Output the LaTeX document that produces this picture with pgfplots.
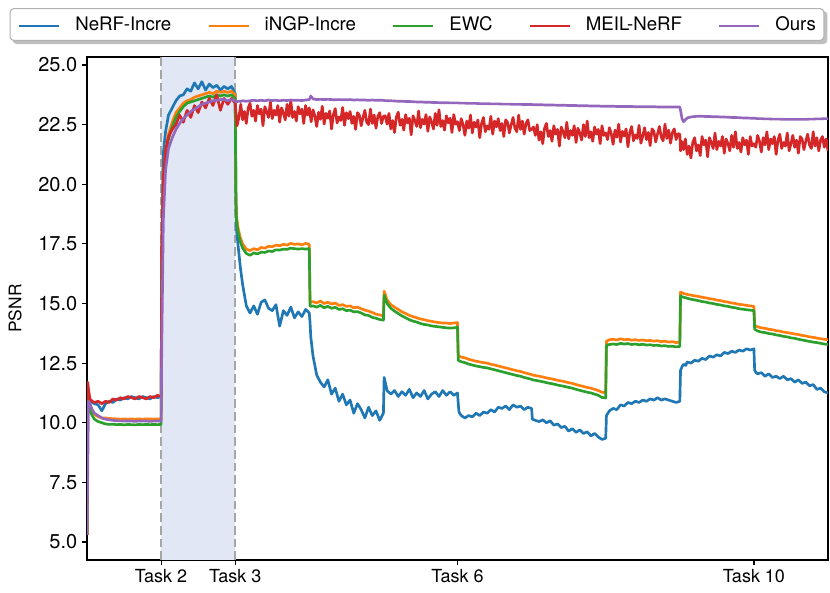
\documentclass[border=0pt]{standalone}
\usepackage{fontspec}
\setmainfont{TeX Gyre Heros}
\usepackage{pgfplots}
\usepackage{pgfplotstable}
\pgfplotsset{compat=1.18}
\usetikzlibrary{backgrounds}

\definecolor{tabblue}{HTML}{1F77B4}
\definecolor{taborange}{HTML}{FF7F0E}
\definecolor{tabgreen}{HTML}{2CA02C}
\definecolor{tabred}{HTML}{D62728}
\definecolor{tabpurple}{HTML}{9467BD}
\definecolor{spanfill}{RGB}{225,231,244}

% x in task units; N=NeRF-Incre, I=iNGP-Incre, E=EWC, O=Ours
\pgfplotstableread{
x N I E O
1.00 5.30 5.30 5.30 5.30
1.01 11.20 11.00 10.90 8.00
1.02 11.00 10.90 10.80 10.90
1.04 10.90 10.70 10.50 10.80
1.07 10.85 10.45 10.30 10.55
1.10 10.80 10.35 10.15 10.40
1.15 10.75 10.25 10.05 10.30
1.20 10.50 10.20 10.00 10.20
1.25 10.80 10.20 9.95 10.15
1.30 10.90 10.18 9.93 10.12
1.35 10.85 10.17 9.94 10.10
1.40 11.00 10.16 9.92 10.08
1.45 10.95 10.15 9.93 10.08
1.50 11.05 10.16 9.91 10.07
1.55 11.00 10.15 9.93 10.07
1.60 11.10 10.16 9.92 10.07
1.65 11.05 10.15 9.91 10.06
1.70 11.00 10.16 9.93 10.07
1.75 11.10 10.15 9.92 10.07
1.80 11.05 10.16 9.93 10.07
1.85 11.00 10.16 9.92 10.06
1.90 11.10 10.15 9.93 10.07
1.95 11.05 10.16 9.92 10.07
2.00 11.10 10.15 9.93 10.07
2.01 17.50 17.00 16.80 13.50
2.03 21.30 20.20 20.00 18.50
2.06 22.20 21.40 21.20 20.60
2.10 22.90 22.10 21.90 21.50
2.15 23.20 22.60 22.40 21.95
2.20 23.50 23.00 22.80 22.30
2.25 23.70 23.20 23.05 22.55
2.30 23.75 23.40 23.25 22.75
2.35 24.00 23.50 23.40 22.90
2.40 23.90 23.55 23.45 23.05
2.45 24.25 23.65 23.50 23.15
2.50 24.00 23.70 23.55 23.25
2.55 24.30 23.75 23.60 23.35
2.60 23.95 23.80 23.65 23.40
2.65 24.20 23.85 23.70 23.45
2.70 24.05 23.80 23.65 23.50
2.75 24.15 23.90 23.75 23.52
2.80 23.95 23.85 23.70 23.55
2.85 24.10 23.90 23.75 23.55
2.90 24.00 23.85 23.70 23.50
2.95 24.10 23.90 23.75 23.55
3.00 23.80 23.75 23.60 23.50
3.01 19.50 19.30 19.00 23.45
3.02 18.00 18.60 18.40 23.45
3.04 17.40 18.15 17.95 23.48
3.07 16.50 17.75 17.58 23.47
3.10 15.80 17.50 17.32 23.50
3.15 14.90 17.28 17.10 23.48
3.20 14.60 17.22 17.02 23.50
3.25 14.90 17.30 17.12 23.52
3.30 14.55 17.25 17.08 23.50
3.35 15.05 17.35 17.15 23.52
3.40 15.15 17.32 17.14 23.50
3.45 14.80 17.40 17.20 23.53
3.50 14.70 17.38 17.18 23.51
3.55 14.95 17.45 17.25 23.52
3.60 14.05 17.42 17.24 23.50
3.65 14.70 17.48 17.28 23.52
3.70 14.50 17.45 17.27 23.51
3.75 14.85 17.52 17.32 23.53
3.80 14.40 17.48 17.30 23.52
3.85 14.65 17.50 17.28 23.52
3.90 14.45 17.46 17.30 23.51
3.95 14.75 17.52 17.28 23.53
4.00 14.60 17.48 17.30 23.55
4.01 14.20 15.10 14.92 23.62
4.02 13.60 15.05 14.88 23.70
4.05 12.80 15.08 14.90 23.58
4.10 12.00 15.02 14.85 23.55
4.15 11.70 15.10 14.92 23.56
4.20 11.50 15.00 14.82 23.55
4.25 11.80 15.05 14.88 23.56
4.30 11.20 14.98 14.80 23.55
4.35 11.45 15.02 14.84 23.54
4.40 10.90 14.92 14.75 23.55
4.45 11.20 14.95 14.78 23.54
4.50 10.75 14.88 14.70 23.54
4.55 10.95 14.90 14.72 23.55
4.60 10.40 14.82 14.65 23.53
4.65 10.80 14.85 14.66 23.54
4.70 10.55 14.78 14.60 23.53
4.75 10.20 14.72 14.52 23.53
4.80 10.65 14.68 14.50 23.52
4.85 10.30 14.62 14.42 23.53
4.90 10.50 14.55 14.38 23.52
4.95 10.10 14.52 14.33 23.52
5.00 10.40 14.48 14.30 23.52
5.01 11.90 15.52 15.35 23.51
5.05 11.35 15.15 15.00 23.50
5.10 11.20 14.95 14.80 23.50
5.15 11.35 14.85 14.68 23.49
5.20 11.10 14.75 14.58 23.48
5.25 11.30 14.65 14.48 23.48
5.30 11.15 14.58 14.40 23.47
5.35 11.40 14.50 14.32 23.47
5.40 11.05 14.45 14.26 23.46
5.45 11.25 14.40 14.22 23.45
5.50 11.10 14.35 14.16 23.45
5.55 11.35 14.32 14.12 23.44
5.60 11.00 14.28 14.10 23.44
5.65 11.20 14.25 14.06 23.43
5.70 11.30 14.22 14.04 23.43
5.75 11.10 14.20 14.02 23.42
5.80 11.35 14.18 14.00 23.42
5.85 11.15 14.18 13.98 23.42
5.90 11.30 14.16 13.97 23.41
5.95 11.15 14.18 13.98 23.41
6.00 11.25 14.20 14.00 23.41
6.01 10.80 12.82 12.63 23.41
6.02 10.45 12.80 12.60 23.40
6.05 10.30 12.75 12.56 23.40
6.10 10.20 12.72 12.52 23.40
6.15 10.30 12.66 12.46 23.39
6.20 10.25 12.62 12.42 23.39
6.25 10.40 12.58 12.38 23.39
6.30 10.30 12.55 12.35 23.38
6.35 10.45 12.52 12.32 23.38
6.40 10.40 12.50 12.30 23.38
6.45 10.55 12.45 12.26 23.37
6.50 10.45 12.42 12.22 23.37
6.55 10.65 12.38 12.18 23.37
6.60 10.60 12.34 12.14 23.36
6.65 10.70 12.30 12.10 23.36
6.70 10.55 12.26 12.06 23.36
6.75 10.75 12.22 12.02 23.35
6.80 10.65 12.18 11.98 23.35
6.85 10.70 12.15 11.95 23.35
6.90 10.55 12.10 11.90 23.34
6.95 10.65 12.06 11.86 23.34
7.00 10.60 12.02 11.82 23.34
7.01 10.15 12.00 11.80 23.34
7.05 10.10 11.98 11.78 23.33
7.10 10.05 11.95 11.75 23.33
7.15 10.12 11.92 11.72 23.33
7.20 10.00 11.88 11.68 23.32
7.25 10.08 11.85 11.65 23.32
7.30 9.90 11.82 11.62 23.32
7.35 9.95 11.78 11.58 23.31
7.40 9.80 11.75 11.55 23.31
7.45 9.85 11.72 11.52 23.31
7.50 9.65 11.68 11.48 23.30
7.55 9.75 11.65 11.45 23.30
7.60 9.60 11.60 11.40 23.30
7.65 9.70 11.56 11.36 23.29
7.70 9.55 11.52 11.32 23.29
7.75 9.62 11.48 11.28 23.29
7.80 9.45 11.45 11.25 23.28
7.85 9.55 11.40 11.20 23.28
7.90 9.40 11.35 11.15 23.28
7.95 9.30 11.28 11.06 23.27
8.00 9.35 11.25 11.04 23.27
8.01 10.30 13.42 13.24 23.27
8.03 10.40 13.45 13.26 23.27
8.05 10.50 13.48 13.28 23.27
8.10 10.60 13.50 13.30 23.27
8.15 10.55 13.47 13.28 23.26
8.20 10.75 13.52 13.33 23.26
8.25 10.70 13.48 13.30 23.26
8.30 10.85 13.50 13.32 23.26
8.35 10.80 13.46 13.28 23.26
8.40 10.90 13.48 13.30 23.25
8.45 10.85 13.45 13.27 23.25
8.50 10.95 13.47 13.29 23.25
8.55 10.90 13.44 13.26 23.25
8.60 11.00 13.45 13.27 23.25
8.65 10.95 13.42 13.24 23.25
8.70 11.05 13.44 13.25 23.24
8.75 10.95 13.40 13.22 23.24
8.80 11.00 13.42 13.23 23.24
8.85 10.95 13.38 13.20 23.24
8.90 10.90 13.40 13.21 23.24
8.95 10.85 13.36 13.18 23.24
9.00 10.90 13.38 13.20 23.24
9.01 12.20 15.48 15.32 23.10
9.03 12.35 15.45 15.28 22.75
9.05 12.45 15.42 15.26 22.62
9.08 12.40 15.40 15.24 22.72
9.10 12.55 15.38 15.22 22.78
9.15 12.50 15.35 15.18 22.82
9.20 12.62 15.32 15.15 22.84
9.25 12.58 15.30 15.12 22.85
9.30 12.70 15.26 15.08 22.85
9.35 12.65 15.24 15.06 22.84
9.40 12.80 15.20 15.02 22.84
9.45 12.75 15.18 15.00 22.83
9.50 12.85 15.14 14.96 22.83
9.55 12.80 15.12 14.94 22.82
9.60 12.95 15.08 14.90 22.82
9.65 12.90 15.06 14.88 22.81
9.70 13.00 15.02 14.84 22.80
9.75 12.95 15.00 14.82 22.80
9.80 13.05 14.96 14.78 22.79
9.85 13.00 14.95 14.76 22.78
9.90 13.10 14.92 14.74 22.78
9.95 13.05 14.90 14.72 22.77
10.00 13.10 14.88 14.70 22.77
10.01 12.20 14.10 13.92 22.76
10.03 12.10 14.05 13.88 22.76
10.05 12.05 14.02 13.85 22.75
10.10 12.10 13.98 13.80 22.75
10.15 11.95 13.96 13.78 22.74
10.20 12.05 13.92 13.74 22.74
10.25 11.90 13.90 13.72 22.73
10.30 11.95 13.86 13.68 22.73
10.35 11.85 13.84 13.66 22.73
10.40 11.95 13.80 13.62 22.72
10.45 11.80 13.78 13.60 22.72
10.50 11.85 13.75 13.56 22.72
10.55 11.70 13.72 13.54 22.72
10.60 11.80 13.70 13.50 22.72
10.65 11.65 13.66 13.47 22.72
10.70 11.70 13.64 13.44 22.72
10.75 11.55 13.60 13.41 22.73
10.80 11.60 13.58 13.38 22.73
10.85 11.40 13.55 13.36 22.74
10.90 11.45 13.52 13.33 22.74
10.95 11.30 13.50 13.30 22.75
11.00 11.25 13.48 13.28 22.75
}\psnr

% MEIL-NeRF, sampled more finely (noisier curve)
\pgfplotstableread{
x M
1.00 5.30
1.01 11.70
1.02 11.40
1.04 11.00
1.07 10.90
1.10 10.85
1.15 10.90
1.20 10.80
1.25 10.90
1.30 10.85
1.35 11.00
1.40 10.95
1.45 11.05
1.50 11.00
1.55 11.10
1.60 11.05
1.65 11.00
1.70 11.10
1.75 11.05
1.80 11.00
1.85 11.10
1.90 11.05
1.95 11.15
2.00 11.10
2.01 17.50
2.03 20.30
2.06 21.40
2.10 22.00
2.15 22.30
2.20 22.50
2.25 22.90
2.30 22.60
2.35 23.10
2.40 22.80
2.45 23.30
2.50 23.00
2.55 23.45
2.60 23.20
2.65 23.60
2.70 23.30
2.75 23.75
2.80 23.10
2.85 23.60
2.90 23.35
2.95 23.60
3.000 23.40
3.025 22.45
3.050 22.80
3.075 23.35
3.100 22.70
3.125 23.05
3.150 22.55
3.175 23.20
3.200 23.40
3.225 22.85
3.250 23.10
3.275 22.65
3.300 23.30
3.325 22.95
3.350 23.15
3.375 22.45
3.400 23.25
3.425 23.05
3.450 22.80
3.475 23.45
3.500 22.75
3.525 23.10
3.550 22.90
3.575 23.30
3.600 22.60
3.625 23.20
3.650 23.00
3.675 22.70
3.700 23.35
3.725 22.85
3.750 23.50
3.775 22.80
3.800 23.05
3.825 22.65
3.850 23.25
3.875 22.95
3.900 23.15
3.925 22.55
3.950 23.30
3.975 22.90
4.000 23.20
4.025 22.62
4.050 23.12
4.075 22.87
4.100 22.42
4.125 23.02
4.150 22.72
4.175 23.27
4.200 22.52
4.225 22.97
4.250 22.77
4.275 23.07
4.300 22.32
4.325 22.92
4.350 23.17
4.375 22.57
4.400 22.82
4.425 22.67
4.450 23.22
4.475 22.47
4.500 23.00
4.525 22.75
4.550 23.05
4.575 22.55
4.600 22.85
4.625 22.30
4.650 23.00
4.675 22.90
4.700 22.45
4.725 22.80
4.750 23.10
4.775 22.60
4.800 22.50
4.825 23.15
4.850 22.55
4.875 22.90
4.900 22.35
4.925 22.85
4.950 23.00
4.975 22.55
5.000 22.85
5.025 22.87
5.050 22.52
5.075 22.97
5.100 22.32
5.125 22.67
5.150 22.17
5.175 22.82
5.200 23.02
5.225 22.47
5.250 22.72
5.275 22.27
5.300 22.92
5.325 22.57
5.350 22.77
5.375 22.07
5.400 22.87
5.425 22.67
5.450 22.42
5.475 23.07
5.500 22.37
5.525 22.72
5.550 22.52
5.575 22.92
5.600 22.22
5.625 22.82
5.650 22.62
5.675 22.32
5.700 22.97
5.725 22.47
5.750 23.12
5.775 22.42
5.800 22.67
5.825 22.27
5.850 22.87
5.875 22.57
5.900 22.77
5.925 22.17
5.950 22.92
5.975 22.52
6.000 22.62
6.025 22.25
6.050 22.75
6.075 22.50
6.100 22.05
6.125 22.65
6.150 22.35
6.175 22.90
6.200 22.15
6.225 22.60
6.250 22.40
6.275 22.70
6.300 21.95
6.325 22.55
6.350 22.80
6.375 22.20
6.400 22.45
6.425 22.30
6.450 22.85
6.475 22.10
6.500 22.65
6.525 22.40
6.550 22.75
6.575 22.25
6.600 22.55
6.625 22.00
6.650 22.70
6.675 22.60
6.700 22.15
6.725 22.50
6.750 22.80
6.775 22.35
6.800 22.20
6.825 22.90
6.850 22.30
6.875 22.65
6.900 22.10
6.925 22.55
6.950 22.70
6.975 22.25
7.000 22.30
7.025 22.40
7.050 22.05
7.075 22.50
7.100 21.85
7.125 22.20
7.150 21.70
7.175 22.35
7.200 22.55
7.225 22.00
7.250 22.25
7.275 21.80
7.300 22.45
7.325 22.10
7.350 22.30
7.375 21.60
7.400 22.40
7.425 22.20
7.450 21.95
7.475 22.60
7.500 21.90
7.525 22.25
7.550 22.05
7.575 22.45
7.600 21.75
7.625 22.35
7.650 22.15
7.675 21.85
7.700 22.50
7.725 22.00
7.750 22.65
7.775 21.95
7.800 22.20
7.825 21.80
7.850 22.40
7.875 22.10
7.900 22.30
7.925 21.70
7.950 22.45
7.975 22.05
8.000 22.15
8.025 21.87
8.050 22.37
8.075 22.12
8.100 21.67
8.125 22.27
8.150 21.97
8.175 22.52
8.200 21.77
8.225 22.22
8.250 22.02
8.275 22.32
8.300 21.57
8.325 22.17
8.350 22.42
8.375 21.82
8.400 22.07
8.425 21.92
8.450 22.47
8.475 21.72
8.500 22.02
8.525 22.37
8.550 21.87
8.575 22.17
8.600 21.62
8.625 22.32
8.650 22.22
8.675 21.77
8.700 22.12
8.725 22.42
8.750 21.97
8.775 21.82
8.800 22.52
8.825 21.92
8.850 22.27
8.875 21.72
8.900 22.17
8.925 22.32
8.950 21.87
8.975 22.12
9.000 22.10
9.010 21.40
9.025 21.80
9.050 21.45
9.075 21.90
9.100 21.25
9.125 21.60
9.150 21.10
9.175 21.75
9.200 21.95
9.225 21.40
9.250 21.65
9.275 21.20
9.300 22.00
9.325 21.65
9.350 21.85
9.375 21.15
9.400 21.95
9.425 21.75
9.450 21.50
9.475 22.15
9.500 21.45
9.525 21.80
9.550 21.60
9.575 22.00
9.600 21.30
9.625 21.90
9.650 21.70
9.675 21.40
9.700 22.05
9.725 21.55
9.750 22.20
9.775 21.50
9.800 21.75
9.825 21.35
9.850 21.95
9.875 21.65
9.900 21.85
9.925 21.25
9.950 22.00
9.975 21.60
10.000 21.70
10.025 21.55
10.050 22.05
10.075 21.80
10.100 21.35
10.125 21.95
10.150 21.65
10.175 22.20
10.200 21.45
10.225 21.90
10.250 21.70
10.275 22.00
10.300 21.25
10.325 21.85
10.350 22.10
10.375 21.50
10.400 21.75
10.425 21.60
10.450 22.15
10.475 21.40
10.500 21.70
10.525 22.05
10.550 21.55
10.575 21.85
10.600 21.30
10.625 22.00
10.650 21.90
10.675 21.45
10.700 21.80
10.725 22.10
10.750 21.65
10.775 21.50
10.800 22.20
10.825 21.60
10.850 21.95
10.875 21.40
10.900 21.85
10.925 22.00
10.950 21.55
10.975 21.90
11.000 21.40
}\meil

\begin{document}
\begin{tikzpicture}
\begin{axis}[name=ax,
	width=555.75pt, height=377.25pt, scale only axis,
	xmin=1, xmax=11, ymin=4.245, ymax=25.335,
	xtick={2,3,6,10}, xticklabels={Task 2,Task 3,Task 6,Task 10},
	ytick={5,7.5,...,25},
	/pgf/number format/assume math mode=true,
	yticklabel style={/pgf/number format/fixed, /pgf/number format/fixed zerofill,
		/pgf/number format/precision=1, font=\fontsize{15}{18}\selectfont},
	xticklabel style={font=\fontsize{13.5}{16}\selectfont},
	tick align=outside, xtick pos=lower, ytick pos=left,
	major tick length=3.75pt,
	every tick/.style={black, line width=0.9pt},
	axis line style={line width=0.9pt},
	ylabel={PSNR},
	ylabel style={font=\fontsize{13}{15}\selectfont,
		at={(axis description cs:-0.0972,0.5)}, anchor=center},
	legend columns=5,
	legend style={name=leg, at={(0.4453,1.0974)}, anchor=north, draw=black!30, fill=white,
		rounded corners=3pt, line width=0.8pt, font=\fontsize{14}{16}\selectfont,
		inner xsep=6pt, inner ysep=5pt,
		nodes={inner xsep=0pt, inner ysep=1pt},
		/tikz/every even column/.append style={column sep=27pt},
		/tikz/every odd column/.append style={column sep=11pt}},
	legend image code/.code={\draw[#1, line width=2pt, sharp corners] (0pt,-1.2pt) -- (30pt,-1.2pt);},
	every axis plot/.append style={line width=2pt, line join=round},
]
	\fill[spanfill] (axis cs:2,4.245) rectangle (axis cs:3,25.335);
	\draw[gray!70, line width=1.5pt, dash pattern=on 6.5pt off 3pt]
		(axis cs:2,4.245) -- (axis cs:2,25.335);
	\draw[gray!70, line width=1.5pt, dash pattern=on 6.5pt off 3pt]
		(axis cs:3,4.245) -- (axis cs:3,25.335);

	\addplot[tabblue] table[x=x, y=N] {\psnr};
	\addlegendentry{NeRF-Incre}
	\addplot[taborange] table[x=x, y=I] {\psnr};
	\addlegendentry{iNGP-Incre}
	\addplot[tabgreen] table[x=x, y=E] {\psnr};
	\addlegendentry{EWC}
	\addplot[tabred] table[x=x, y=M] {\meil};
	\addlegendentry{MEIL-NeRF}
	\addplot[tabpurple] table[x=x, y=O] {\psnr};
	\addlegendentry{Ours}
\end{axis}
\begin{scope}[on background layer]
	\fill[black!50, opacity=0.5, rounded corners=3pt]
		([xshift=2.25pt, yshift=-2.25pt]leg.south west)
		rectangle ([xshift=2.25pt, yshift=-2.25pt]leg.north east);
\end{scope}
\pgfresetboundingbox
\path ([xshift=-65.25pt, yshift=-24pt]ax.south west)
	rectangle ([xshift=1.5pt, yshift=42.75pt]ax.north east);
\end{tikzpicture}
\end{document}
